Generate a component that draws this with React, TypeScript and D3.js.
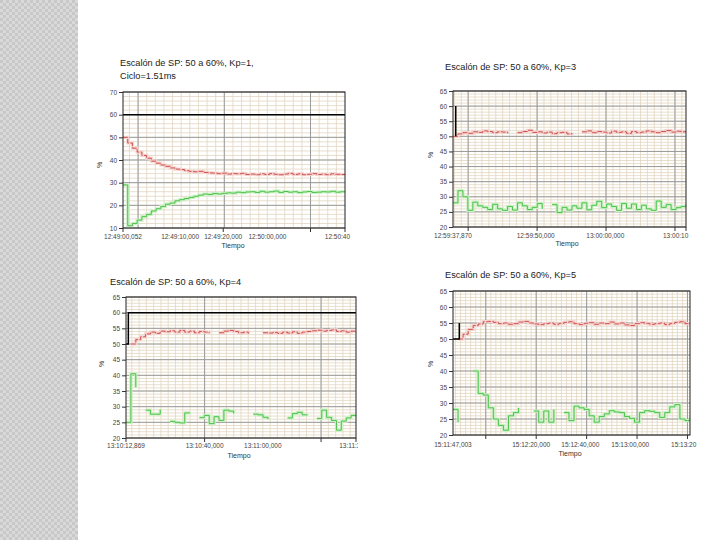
import React, { useEffect, useRef } from 'react';
import * as d3 from 'd3';

// ---- Kp=1 ----
const p1Red = [50, 47.5, 45.2, 43.5, 42, 40.8, 39.5, 38.6, 37.8, 37.2, 36.5, 36, 35.8, 35.3, 35, 34.8, 35, 34.5, 34.3, 34.2, 34, 34.2, 33.8, 34, 33.9, 34.1, 33.6, 33.8, 33.5, 33.9, 33.6, 34, 33.7, 33.5, 33.8, 34.1, 33.6, 33.9, 33.5, 33.7, 34, 33.6, 33.8, 33.5, 33.9, 33.7, 33.6, 33.8];
const p1Green = [29, 11, 12, 13.5, 15, 16, 17.5, 18.5, 19.5, 20.5, 21, 22, 22.5, 23, 23.5, 24, 24.5, 25, 24.8, 25.2, 25, 25.3, 25.5, 25.4, 25.8, 25.6, 25.9, 26, 25.7, 26.2, 25.8, 26, 26.3, 25.7, 26.1, 25.8, 26, 25.6, 25.9, 26.1, 25.7, 25.8, 26, 25.9, 26.2, 25.8, 26, 25.7];
const p1SpTime = [0, 103];
const p1SpVal = [60, 60];
const p1YTicks = [10, 20, 30, 40, 50, 60, 70];
const p1XTicks = [0, 26.5, 46.5, 67, 99.5];
const p1XLabels = ['12:49:00,052', '12:49:10,000', '12:49:20,000', '12:50:00,000', '12:50:40'];

// ---- Kp=3 ----
const p2Red = [50, 50.8, 51.2, 51, 51.5, 51.3, 51.8, 51.6, 51.2, 51.5, 51.4, 51, null, 51.2, 51.6, 52, 51.3, 51.5, 51.1, 51.4, 50.9, 51.2, 51.3, 50.8, 51.1, null, 51.5, 51.8, 51.2, 51.6, 51.4, 51.1, 51.7, 51.3, 51.5, 51, 51.6, 51.2, 51.4, 51.8, 51.5, 51.2, 51.6, 51.9, 51.4, 51.7, 51.5, 51.8];
const p2Green = [28, 32, 30, 25.5, 28.2, 27, 26.5, 25.8, 27.5, 26, 25.5, 26.8, 25.6, 28, 27, 25.8, 26.5, 27.8, 26, null, 27.4, 24.8, 26.5, 25.6, 27, 26.2, 28, 25.7, 27.2, 28.5, 26.4, 27.6, 26.8, 25.5, 27.8, 26.2, 27.6, 25.8, 27.2, 26, 25.5, 28.6, 26.5, 27.4, 25.8, 26.4, 26.8, 27.5];
const p2SpTime = [0.4, 0.4];
const p2SpVal = [50, 60];
const p2YTicks = [20, 25, 30, 35, 40, 45, 50, 55, 60, 65];
const p2XTicks = [0, 12, 22.1, 32.3];
const p2XLabels = ['12:59:37,870', '12:59:50,000', '13:00:00,000', '13:00:10'];

// ---- Kp=4 ----
const p3Red = [null, 50, 51.4, 52.3, 53.2, 53.8, 53.4, 54.1, 53.9, 54.2, 53.8, 54.3, 53.8, 54.1, 53.6, 54, 53.8, 53.4, null, 53.6, 54.1, 54.3, 54, 53.6, 53.8, 53.3, null, null, 53.6, 53.5, 53.7, 53.4, 53.8, 53.5, 53.9, 53.4, 53.8, 54, 54.2, 54.4, 54.1, 54.3, 54.5, 54, 54.2, 53.8, 54.1, 53.7];
const p3Green = [25, 40.5, 36.2, null, 28.9, 27.6, 27.6, 29.1, null, 25.3, 25, 24.8, 28, 28.2, null, 26.5, 27.2, 24.6, 26.8, 25.6, 28.9, 28.6, 27.8, null, 25.6, null, 27.6, 27.4, 26.6, 26, null, 25.4, null, 26.4, 27.8, 28.2, 27.4, 27.2, null, 26.2, 28.9, 26.6, 25.6, 22.5, 25.4, 26.4, 27.2, 27];
const p3SpTime = [0, 0.8, 0.8, 79];
const p3SpVal = [50, 50, 60, 60];
const p3YTicks = [20, 25, 30, 35, 40, 45, 50, 55, 60, 65];
const p3XTicks = [0, 27, 47, 77.5];
const p3XLabels = ['13:10:12,869', '13:10:40,000', '13:11:00,000', '13:11:30'];

// ---- Kp=5 ----
const p4Red = [null, 50, 51.5, 53, 54.2, 54.7, 55.4, 55.5, 55.2, 54.8, 55, 54.6, 54.8, 55.3, 55.5, 55, 54.7, 54.5, 54.8, 55, 54.6, 54.9, 55.2, 55.4, 54.8, 54.5, 54.9, 55.1, 54.6, 55, 54.8, 55.3, 54.7, 55, 54.4, 54.2, 54.8, 55.1, 54.9, 54.6, 54.8, 55, 54.5, 54.9, 55.2, 55.4, 54.8, 55];
const p4Green = [28, 24, null, null, 40, 33, 32.5, 28.5, 25, 23, 21.5, 26, 27, 28.5, null, null, 27.5, 24, 27.5, 24, 28, null, 27, 24.5, 29, 28.5, 28, 26, 24, 25.8, 26.6, 27.6, 27.2, 27, 25.8, 25.2, 24, 27, 27.6, 27.4, 27, 25.5, 27, 28.8, 29.5, 25, 24.5, 25.5];
const p4SpTime = [0, 2.5, 2.5, 2.5, 94];
const p4SpVal = [50, 50, 55, null, 60];
const p4YTicks = [20, 25, 30, 35, 40, 45, 50, 55, 60, 65];
const p4XTicks = [0, 31, 50.5, 70.3, 91.5];
const p4XLabels = ['15:11:47,003', '15:12:20,000', '15:12:40,000', '15:13:00,000', '15:13:20'];

type Val = number | null;
type Panel = {
  title: string[]; titleX: number; titleY: number;
  left: number; right: number; top: number; bottom: number;
  xMax: number; yTicks: number[]; yMinor: number;
  xGrid: number[]; xMinor: number; xMarks: number[];
  xTicks: number[]; xLabels: string[]; xLabelY: number;
  tiempoX: number; tiempoY: number; pctX: number; pctY: number;
  red: Val[]; green: Val[]; dt: number;
  spTime: number[]; spVal: Val[];
  clipRight?: number;
};

const panels: Panel[] = [
  {
    title: ['Escalón de SP: 50 a 60%, Kp=1,', 'Ciclo=1.51ms'], titleX: 120, titleY: 66,
    left: 123, right: 345, top: 92, bottom: 228,
    xMax: 103, yTicks: p1YTicks, yMinor: 2,
    xGrid: [7, 47, 87], xMinor: 4, xMarks: [0, 46.5, 87, 103],
    xTicks: p1XTicks, xLabels: p1XLabels, xLabelY: 239,
    tiempoX: 233, tiempoY: 248, pctX: 102, pctY: 165,
    red: p1Red, green: p1Green, dt: 103 / 47,
    spTime: p1SpTime, spVal: p1SpVal,
  },
  {
    title: ['Escalón de SP: 50 a 60%, Kp=3'], titleX: 445, titleY: 70,
    left: 453, right: 686, top: 91, bottom: 227,
    xMax: 33.8, yTicks: p2YTicks, yMinor: 1,
    xGrid: [2.2, 12.2, 22.2, 32.2], xMinor: 1, xMarks: [2.2, 12.2, 22.2, 32.2, 33.8],
    xTicks: p2XTicks, xLabels: p2XLabels, xLabelY: 238,
    tiempoX: 567, tiempoY: 246, pctX: 433, pctY: 155,
    red: p2Red, green: p2Green, dt: 33.8 / 47,
    spTime: p2SpTime, spVal: p2SpVal,
  },
  {
    title: ['Escalón de SP: 50 a 60%, Kp=4'], titleX: 110, titleY: 285,
    left: 126, right: 356, top: 297, bottom: 438,
    xMax: 79, yTicks: p3YTicks, yMinor: 1,
    xGrid: [27, 67], xMinor: 2.5, xMarks: [0, 27, 67, 79],
    xTicks: p3XTicks, xLabels: p3XLabels, xLabelY: 448,
    tiempoX: 239, tiempoY: 458, pctX: 104, pctY: 364,
    red: p3Red, green: p3Green, dt: 79 / 47,
    spTime: p3SpTime, spVal: p3SpVal, clipRight: 358,
  },
  {
    title: ['Escalón de SP: 50 a 60%, Kp=5'], titleX: 445, titleY: 278,
    left: 453, right: 690, top: 291, bottom: 435,
    xMax: 94, yTicks: p4YTicks, yMinor: 1,
    xGrid: [13, 33, 53, 73, 93], xMinor: 2, xMarks: [13, 33, 53, 73, 93],
    xTicks: p4XTicks, xLabels: p4XLabels, xLabelY: 446.5,
    tiempoX: 570, tiempoY: 456, pctX: 433, pctY: 364,
    red: p4Red, green: p4Green, dt: 2,
    spTime: p4SpTime, spVal: p4SpVal, clipRight: 697,
  },
];

const FONT = '"Liberation Sans", Arial, sans-serif';

const drawPanel = (svg: d3.Selection<SVGSVGElement, unknown, null, undefined>, p: Panel, idx: number) => {
  const x = d3.scaleLinear().domain([0, p.xMax]).range([p.left, p.right]);
  const yMin = p.yTicks[0];
  const yMax = p.yTicks[p.yTicks.length - 1];
  const y = d3.scaleLinear().domain([yMin, yMax]).range([p.bottom, p.top]);
  const defs = svg.select('defs');

  const clipId = `plot-clip-${idx}`;
  defs.append('clipPath').attr('id', clipId).append('rect')
    .attr('x', p.left).attr('y', p.top)
    .attr('width', p.right - p.left).attr('height', p.bottom - p.top);

  const g = svg.append('g');
  if (p.clipRight) {
    const outer = `panel-clip-${idx}`;
    defs.append('clipPath').attr('id', outer).append('rect')
      .attr('x', 0).attr('y', 0).attr('width', p.clipRight).attr('height', 540);
    g.attr('clip-path', `url(#${outer})`);
  }

  g.append('rect').attr('x', p.left).attr('y', p.top)
    .attr('width', p.right - p.left).attr('height', p.bottom - p.top).attr('fill', '#fff');

  // minor grid
  const minorY = d3.range(yMin, yMax + 1e-6, p.yMinor);
  g.append('g').selectAll('line').data(minorY).join('line')
    .attr('x1', p.left).attr('x2', p.right)
    .attr('y1', d => y(d)).attr('y2', d => y(d))
    .attr('stroke', '#e2d6c0').attr('stroke-width', 0.8);
  const firstMinor = p.xGrid[0] - Math.floor(p.xGrid[0] / p.xMinor) * p.xMinor;
  const minorX = d3.range(firstMinor, p.xMax, p.xMinor);
  g.append('g').selectAll('line').data(minorX).join('line')
    .attr('x1', d => x(d)).attr('x2', d => x(d))
    .attr('y1', p.top).attr('y2', p.bottom)
    .attr('stroke', '#e2d6c0').attr('stroke-width', 0.8);

  // major grid
  g.append('g').selectAll('line').data(p.yTicks).join('line')
    .attr('x1', p.left).attr('x2', p.right)
    .attr('y1', d => y(d)).attr('y2', d => y(d))
    .attr('stroke', '#9a9a9a').attr('stroke-width', 1);
  g.append('g').selectAll('line').data(p.xGrid).join('line')
    .attr('x1', d => x(d)).attr('x2', d => x(d))
    .attr('y1', p.top).attr('y2', p.bottom)
    .attr('stroke', '#9a9a9a').attr('stroke-width', 1);

  const plot = g.append('g').attr('clip-path', `url(#${clipId})`);
  const line = d3.line<[number, Val]>()
    .defined(d => d[1] != null)
    .x(d => x(d[0]))
    .y(d => y(d[1] as number))
    .curve(d3.curveStepAfter);

  const redPts = p.red.map((v, i) => [i * p.dt, v] as [number, Val]);
  const greenPts = p.green.map((v, i) => [i * p.dt, v] as [number, Val]);

  plot.append('path').attr('d', line(greenPts)).attr('fill', 'none')
    .attr('stroke', '#cdf1c6').attr('stroke-width', 3.2);
  plot.append('path').attr('d', line(greenPts)).attr('fill', 'none')
    .attr('stroke', '#4cc24c').attr('stroke-width', 1);

  plot.append('path').attr('d', line(redPts)).attr('fill', 'none')
    .attr('stroke', '#f5d3d0').attr('stroke-width', 3.2);
  plot.append('path').attr('d', line(redPts)).attr('fill', 'none')
    .attr('stroke', '#c9453f').attr('stroke-width', 0.9).attr('stroke-dasharray', '5,1.5');

  const spLine = d3.line<[number, Val]>()
    .defined(d => d[1] != null)
    .x(d => x(d[0]))
    .y(d => y(d[1] as number));
  plot.append('path')
    .attr('d', spLine(p.spTime.map((t, i) => [t, p.spVal[i]] as [number, Val])))
    .attr('fill', 'none').attr('stroke', '#000').attr('stroke-width', 1.5);

  // frame
  g.append('rect').attr('x', p.left).attr('y', p.top)
    .attr('width', p.right - p.left).attr('height', p.bottom - p.top)
    .attr('fill', 'none').attr('stroke', '#222').attr('stroke-width', 1);

  // y axis
  const ya = g.append('g').attr('transform', `translate(${p.left},0)`)
    .call(d3.axisLeft(y).tickValues(p.yTicks).tickSize(4).tickPadding(2).tickFormat(d3.format('d')));
  ya.select('.domain').remove();
  ya.attr('font-family', FONT).attr('font-size', 6.5);
  ya.selectAll('line').attr('stroke', '#333');
  ya.selectAll('text').attr('fill', '#444');

  // x axis
  g.append('g').selectAll('line').data(p.xMarks).join('line')
    .attr('x1', d => x(d)).attr('x2', d => x(d))
    .attr('y1', p.bottom).attr('y2', p.bottom + 4)
    .attr('stroke', '#333');
  g.append('g').selectAll('text').data(p.xTicks).join('text')
    .attr('x', d => x(d)).attr('y', p.xLabelY)
    .attr('text-anchor', 'middle')
    .attr('font-family', FONT).attr('font-size', 6.5).attr('fill', '#444')
    .text((d, i) => p.xLabels[i]);

  g.append('text').attr('x', p.tiempoX).attr('y', p.tiempoY)
    .attr('text-anchor', 'middle').attr('font-family', FONT).attr('font-size', 7)
    .attr('fill', '#333').text('Tiempo');
  g.append('text')
    .attr('transform', `translate(${p.pctX},${p.pctY}) rotate(-90)`)
    .attr('text-anchor', 'middle').attr('font-family', FONT).attr('font-size', 7)
    .attr('fill', '#333').text('%');

  g.append('g').selectAll('text').data(p.title).join('text')
    .attr('x', p.titleX).attr('y', (d, i) => p.titleY + i * 13)
    .attr('font-family', FONT).attr('font-size', 9.2).attr('fill', '#222')
    .text(d => d);
};

const App = () => {
  const svgRef = useRef<SVGSVGElement | null>(null);

  useEffect(() => {
    if (!svgRef.current) return;
    const svg = d3.select(svgRef.current);
    svg.selectAll('*').remove();
    svg.attr('width', 720).attr('height', 540);

    const defs = svg.append('defs');
    const pat = defs.append('pattern').attr('id', 'checker')
      .attr('width', 6).attr('height', 6).attr('patternUnits', 'userSpaceOnUse');
    pat.append('rect').attr('width', 6).attr('height', 6).attr('fill', '#d9d9d9');
    pat.append('rect').attr('width', 3).attr('height', 3).attr('fill', '#c8c8c8');
    pat.append('rect').attr('x', 3).attr('y', 3).attr('width', 3).attr('height', 3).attr('fill', '#c8c8c8');

    svg.append('rect').attr('width', 720).attr('height', 540).attr('fill', '#fff');
    svg.append('rect').attr('width', 78).attr('height', 540).attr('fill', 'url(#checker)');

    panels.forEach((p, i) => drawPanel(svg, p, i));
  }, []);

  return <svg ref={svgRef} style={{ position: 'absolute', left: 0, top: 0 }}></svg>;
};

export default App;
